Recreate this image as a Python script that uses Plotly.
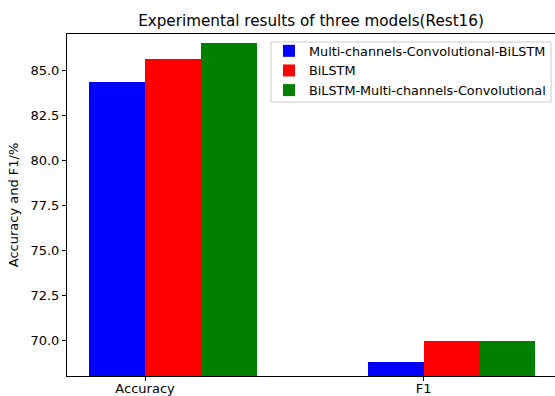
import plotly.graph_objects as go

categories = ["Accuracy", "F1"]
series_names = ["Multi-channels-Convolutional-BiLSTM", "BiLSTM", "BiLSTM-Multi-channels-Convolutional"]
series_colors = ["blue", "red", "green"]
values = {
    "Multi-channels-Convolutional-BiLSTM": [84.35, 68.76],
    "BiLSTM": [85.65, 69.93],
    "BiLSTM-Multi-channels-Convolutional": [86.56, 69.97],
}
bar_width = 0.2
offsets = [-0.1, 0.1, 0.3]
cat_pos = [0, 1]

fig = go.Figure()
for name, color, off in zip(series_names, series_colors, offsets):
    fig.add_trace(go.Bar(
        x=[p + off for p in cat_pos], y=values[name], width=bar_width,
        name=name, marker=dict(color=color, line=dict(width=0)),
    ))

W, H = 555, 396
L, R, T, B = 67, 0, 34, 20
pw, ph = W - L - R, H - T - B
tick_font = dict(family="DejaVu Sans", size=13, color="black")
leg_font = dict(family="DejaVu Sans", size=12.8, color="black")

def px_to_paper_x(px):
    return (px - L) / pw

def px_to_paper_y(py):
    return (H - B - py) / ph

fig.update_layout(
    width=W, height=H,
    margin=dict(l=L, r=R, t=T, b=B, autoexpand=False),
    paper_bgcolor="white", plot_bgcolor="white",
    font=tick_font,
    barmode="overlay",
    bargap=0,
    title=dict(text="Experimental results of three models(Rest16)",
               x=0.5, xref="paper", xanchor="center",
               y=1 - 21 / H, yref="container", yanchor="middle",
               font=dict(family="DejaVu Sans", size=15.2, color="black")),
    showlegend=True,
    legend=dict(x=px_to_paper_x(269), xanchor="left", y=px_to_paper_y(36), yanchor="top",
                bgcolor="rgba(0,0,0,0)", borderwidth=0,
                font=leg_font, tracegroupgap=0),
    shapes=[dict(type="rect", xref="paper", yref="paper",
                 x0=px_to_paper_x(271), x1=px_to_paper_x(551),
                 y0=px_to_paper_y(102), y1=px_to_paper_y(42),
                 line=dict(color="#cccccc", width=1),
                 fillcolor="rgba(255,255,255,0.8)", layer="above")],
    xaxis=dict(range=[-0.28, 1.471], tickmode="array", tickvals=cat_pos, ticktext=categories,
               showline=True, linecolor="black", linewidth=1, mirror=True,
               ticks="outside", ticklen=4, tickcolor="black", showgrid=False, zeroline=False,
               ticklabelstandoff=-4),
    yaxis=dict(range=[68.0, 87.04], tickmode="array",
               tickvals=[70, 72.5, 75, 77.5, 80, 82.5, 85],
               ticktext=["70.0", "72.5", "75.0", "77.5", "80.0", "82.5", "85.0"],
               showline=True, linecolor="black", linewidth=1, mirror=False,
               ticks="outside", ticklen=4, tickcolor="black", showgrid=False, zeroline=False,
               title=dict(text="Accuracy and F1/%", standoff=8, font=tick_font)),
)

fig.write_html("out.html")
